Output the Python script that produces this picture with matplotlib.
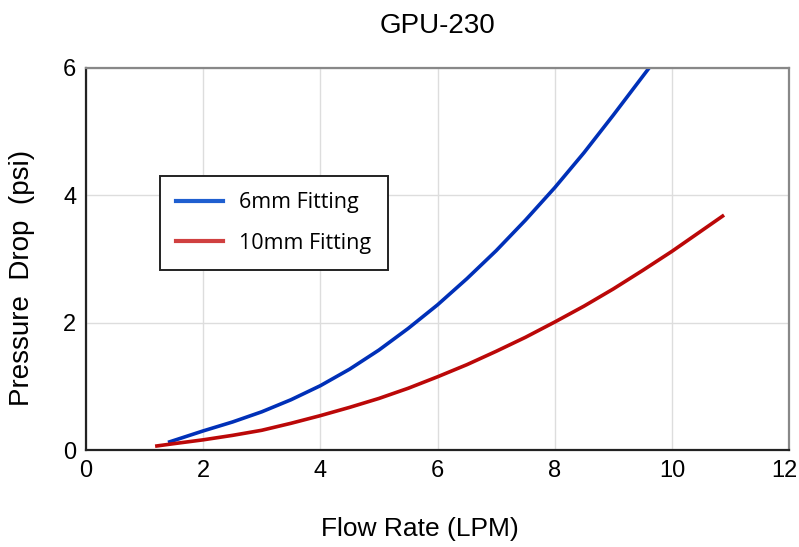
import matplotlib.pyplot as plt
from matplotlib.lines import Line2D
from matplotlib.transforms import ScaledTranslation

# values
flow_6mm = [1.4, 2, 2.5, 3, 3.5, 4, 4.5, 5, 5.5, 6, 6.5, 7, 7.5, 8, 8.5, 9, 9.61]
drop_6mm = [0.12, 0.30, 0.44, 0.60, 0.79, 1.01, 1.27, 1.57, 1.91, 2.28, 2.69,
            3.13, 3.61, 4.12, 4.67, 5.26, 6.0]
flow_10mm = [1.18, 1.5, 2, 2.5, 3, 3.5, 4, 4.5, 5, 5.5, 6, 6.5, 7, 7.5, 8, 8.5,
             9, 9.5, 10, 10.5, 10.89]
drop_10mm = [0.06, 0.10, 0.16, 0.23, 0.31, 0.42, 0.54, 0.67, 0.81, 0.97, 1.15,
             1.34, 1.55, 1.77, 2.01, 2.26, 2.53, 2.82, 3.12, 3.44, 3.69]
labels = ['6mm Fitting', '10mm Fitting']

plt.rcParams['font.family'] = ['Liberation Sans', 'DejaVu Sans']

fig = plt.figure(figsize=(7.99, 5.47), dpi=100)
ax = fig.add_axes([0.1076, 0.1773, 0.88, 0.6984])

ax.plot(flow_6mm, drop_6mm, color='#0030b8', lw=2.6, solid_capstyle='butt')
ax.plot(flow_10mm, drop_10mm, color='#bb0808', lw=2.6, solid_capstyle='butt')

ax.set_xlim(0, 12)
ax.set_ylim(0, 6)
ax.set_xticks(range(0, 13, 2))
ax.set_yticks(range(0, 7, 2))
ax.grid(color='#dddddd', lw=1)
ax.set_axisbelow(True)
ax.tick_params(length=0, labelsize=17, pad=7)
for s in ['left', 'bottom']:
    ax.spines[s].set_color('#222222')
    ax.spines[s].set_linewidth(1.6)
for s in ['top', 'right']:
    ax.spines[s].set_color('#888888')
    ax.spines[s].set_linewidth(1.6)

# keep the "12" inside the canvas
last = ax.get_xticklabels()[-1]
last.set_transform(last.get_transform() + ScaledTranslation(-5 / 100, 0, fig.dpi_scale_trans))

ax.set_xlabel('Flow Rate (LPM)', fontsize=19)
ax.xaxis.set_label_coords(0.475, -0.175)
ax.set_ylabel('Pressure  Drop  (psi)', fontsize=20)
ax.yaxis.set_label_coords(-0.073, 0.45)
ax.set_title('GPU-230', fontsize=20, pad=25)

handles = [Line2D([], [], color='#1f5fd0', lw=3),
           Line2D([], [], color='#d04040', lw=3)]
leg = ax.legend(handles, labels, loc='upper left', bbox_to_anchor=(0.105, 0.717),
                borderaxespad=0, prop={'family': 'Open Sans', 'size': 15.5},
                fancybox=False, edgecolor='#222222', framealpha=1,
                handlelength=2.2, borderpad=0.75, labelspacing=0.9,
                handletextpad=0.75)
leg.get_frame().set_linewidth(1.4)

fig.savefig('out.png', dpi=100)
